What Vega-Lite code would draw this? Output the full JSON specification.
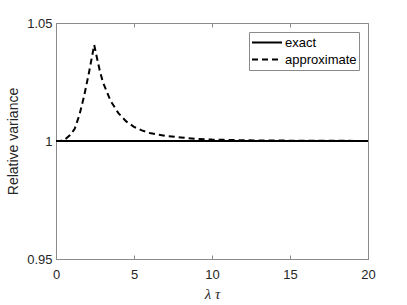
{
  "$schema": "https://vega.github.io/schema/vega-lite/v6.json",
  "width": 312,
  "height": 236,
  "autosize": {"type": "none"},
  "padding": {"left": 56, "top": 23, "right": 39, "bottom": 46},
  "background": "white",
  "config": {
    "view": {"stroke": "#8a8a8a", "strokeWidth": 1},
    "font": "Liberation Sans",
    "axis": {
      "grid": false,
      "domainColor": "#8a8a8a",
      "tickColor": "#8a8a8a",
      "labelColor": "#262626",
      "titleColor": "#262626",
      "labelFont": "Liberation Sans",
      "labelFontSize": 13,
      "titleFontSize": 14,
      "titleFontWeight": "normal",
      "tickSize": -4
    }
  },
  "data": {
    "values": [
      {"x": 0, "y": 1, "s": "exact"},
      {"x": 20, "y": 1, "s": "exact"},
      {"x": 0, "y": 1.0, "s": "approximate"},
      {"x": 0.3, "y": 1.0, "s": "approximate"},
      {"x": 0.6, "y": 1.0008, "s": "approximate"},
      {"x": 0.9, "y": 1.0025, "s": "approximate"},
      {"x": 1.2, "y": 1.0052, "s": "approximate"},
      {"x": 1.5, "y": 1.011, "s": "approximate"},
      {"x": 1.8, "y": 1.019, "s": "approximate"},
      {"x": 2.1, "y": 1.0285, "s": "approximate"},
      {"x": 2.3, "y": 1.0355, "s": "approximate"},
      {"x": 2.45, "y": 1.0407, "s": "approximate"},
      {"x": 2.6, "y": 1.036, "s": "approximate"},
      {"x": 2.8, "y": 1.030, "s": "approximate"},
      {"x": 3.0, "y": 1.025, "s": "approximate"},
      {"x": 3.5, "y": 1.017, "s": "approximate"},
      {"x": 4.0, "y": 1.0118, "s": "approximate"},
      {"x": 4.5, "y": 1.0083, "s": "approximate"},
      {"x": 5.0, "y": 1.006, "s": "approximate"},
      {"x": 5.5, "y": 1.0045, "s": "approximate"},
      {"x": 6.0, "y": 1.0034, "s": "approximate"},
      {"x": 7.0, "y": 1.0022, "s": "approximate"},
      {"x": 8.0, "y": 1.0015, "s": "approximate"},
      {"x": 9.0, "y": 1.0009, "s": "approximate"},
      {"x": 10.0, "y": 1.0006, "s": "approximate"},
      {"x": 12.0, "y": 1.0003, "s": "approximate"},
      {"x": 14.0, "y": 1.0002, "s": "approximate"},
      {"x": 16.0, "y": 1.0001, "s": "approximate"},
      {"x": 18.0, "y": 1.0001, "s": "approximate"},
      {"x": 20.0, "y": 1.0, "s": "approximate"}
    ]
  },
  "layer": [
    {
      "mark": {"type": "line", "color": "black", "strokeWidth": 2},
      "encoding": {
        "x": {
          "field": "x", "type": "quantitative",
          "scale": {"domain": [0, 20], "nice": false, "zero": false},
          "axis": {"values": [0, 5, 10, 15, 20], "title": "λ τ", "titleFont": "Liberation Serif", "titleFontStyle": "italic", "titleFontSize": 15, "labelPadding": 13, "titlePadding": 5, "labelFlush": false}
        },
        "y": {
          "field": "y", "type": "quantitative",
          "scale": {"domain": [0.95, 1.05], "nice": false, "zero": false},
          "axis": {"values": [0.95, 1, 1.05], "title": "Relative variance", "labelPadding": 8, "titlePadding": 6, "format": "~g", "labelFlush": false}
        },
        "strokeDash": {
          "field": "s", "type": "nominal",
          "scale": {"domain": ["exact", "approximate"], "range": [[1, 0], [6, 4]]},
          "legend": {
            "title": null,
            "orient": "none",
            "legendX": 193,
            "legendY": 9,
            "fillColor": "white",
            "strokeColor": "#8a8a8a",
            "padding": 2,
            "symbolType": "stroke",
            "symbolSize": 900,
            "symbolStrokeWidth": 2,
            "symbolStrokeColor": "black",
            "labelFontSize": 13,
            "labelColor": "black",
            "labelOffset": 2,
            "clipHeight": 17,
            "rowPadding": 0
          }
        }
      }
    },
    {
      "mark": {"type": "rule", "opacity": 0},
      "encoding": {
        "x": {
          "field": "x", "type": "quantitative",
          "scale": {"domain": [0, 20], "nice": false, "zero": false},
          "axis": {"orient": "top", "values": [0, 5, 10, 15, 20], "labels": false, "title": null, "domain": false}
        }
      }
    }
  ],
  "resolve": {"axis": {"x": "independent"}}
}
